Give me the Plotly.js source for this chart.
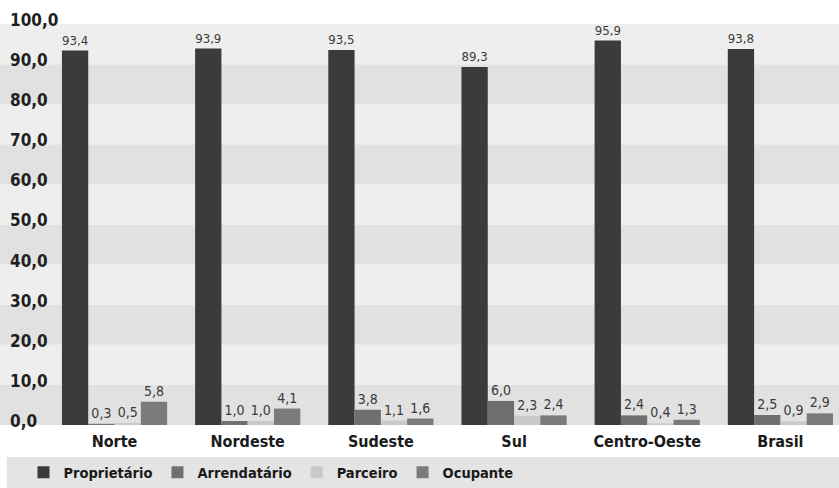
<!DOCTYPE html>
<html>
<head>
<meta charset="utf-8">
<script src="https://cdn.plot.ly/plotly-3.0.1.min.js"></script>
<style>
  html, body { margin: 0; padding: 0; background: #ffffff; }
  #chart { width: 839px; height: 488px; }
</style>
</head>
<body>
<div id="chart"></div>
<script>
// Regions and tenure condition shares (%)
const categories = ['Norte', 'Nordeste', 'Sudeste', 'Sul', 'Centro-Oeste', 'Brasil'];
const proprietario = [93.4, 93.9, 93.5, 89.3, 95.9, 93.8];
const arrendatario = [0.3, 1.0, 3.8, 6.0, 2.4, 2.5];
const parceiro = [0.5, 1.0, 1.1, 2.3, 0.4, 0.9];
const ocupante = [5.8, 4.1, 1.6, 2.4, 1.3, 2.9];
const seriesNames = ['Proprietário', 'Arrendatário', 'Parceiro', 'Ocupante'];
const yTicks = [0, 10, 20, 30, 40, 50, 60, 70, 80, 90, 100];

const seriesValues = [proprietario, arrendatario, parceiro, ocupante];
const seriesColors = ['#3b3b3b', '#6f6f6f', '#c9c9c9', '#7b7b7b'];

const narrow = '"DejaVu Sans Condensed", "DejaVu Sans", sans-serif';

const traces = seriesValues.map((vals, i) => ({
  type: 'bar',
  name: seriesNames[i],
  x: categories,
  y: vals,
  marker: { color: seriesColors[i] },
  texttemplate: '%{y:.1f}',
  textposition: 'outside',
  textfont: { family: narrow, size: 14, color: '#3a3a3a' },
  cliponaxis: false,
  hoverinfo: 'x+y+name'
}));

// Alternating horizontal bands behind the bars
const shapes = [];
for (let i = 0; i < yTicks.length - 1; i++) {
  shapes.push({
    type: 'rect', layer: 'below',
    xref: 'paper', x0: 0, x1: 1,
    yref: 'y', y0: yTicks[i], y1: yTicks[i + 1],
    fillcolor: i % 2 === 0 ? '#e1e1e1' : '#eeeeee',
    line: { width: 0 }
  });
}
// Grey strip behind the legend
shapes.push({
  type: 'rect', layer: 'below',
  xref: 'paper', x0: 0.008, x1: 1,
  yref: 'paper', y0: -0.1482, y1: -0.0753,
  fillcolor: '#e4e4e4',
  line: { width: 0 }
});

const layout = {
  width: 839,
  height: 488,
  margin: { l: 0, r: 0, t: 0, b: 63 },
  paper_bgcolor: '#ffffff',
  plot_bgcolor: '#ffffff',
  separators: ',.',
  barmode: 'group',
  bargap: 0.21,
  bargroupgap: 0,
  showlegend: true,
  legend: {
    orientation: 'h',
    xref: 'container', yref: 'container',
    x: 0.028, y: 0.032,
    xanchor: 'left', yanchor: 'middle',
    bgcolor: 'rgba(0,0,0,0)',
    font: { family: narrow, size: 14.5, color: '#1a1a1a', weight: 'bold' },
    itemclick: false, itemdoubleclick: false
  },
  xaxis: {
    type: 'category',
    range: [-0.86, 5.44],
    showgrid: false, zeroline: false, showline: false,
    ticks: '',
    ticklabelstandoff: 5,
    tickfont: { family: narrow, size: 16, color: '#1a1a1a', weight: 'bold' },
    fixedrange: true
  },
  yaxis: {
    range: [0, 106],
    tickvals: yTicks,
    tickformat: '.1f',
    ticklabelposition: 'inside',
    ticklabeloverflow: 'allow',
    ticklabelstandoff: 7,
    ticklabelshift: -4,
    showgrid: false, zeroline: false, showline: false,
    ticks: '',
    tickfont: { family: narrow, size: 17, color: '#1f1f1f', weight: 'bold' },
    fixedrange: true
  },
  shapes: shapes
};

Plotly.newPlot('chart', traces, layout, { displayModeBar: false, staticPlot: true });
</script>
</body>
</html>
